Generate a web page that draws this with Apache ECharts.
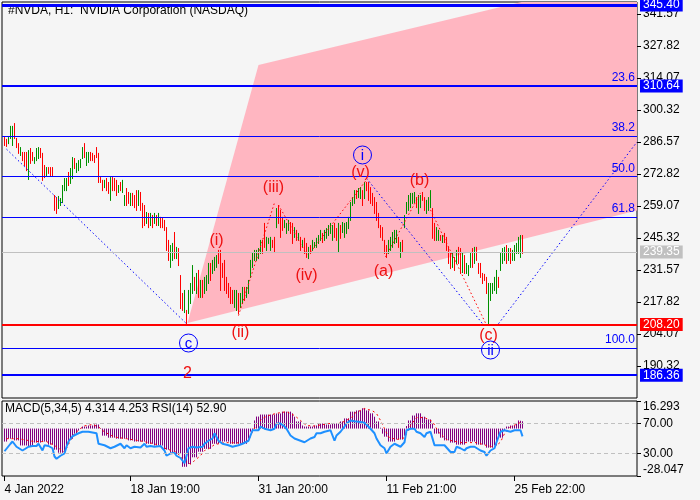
<!DOCTYPE html>
<html lang="en">
<head>
<meta charset="UTF-8">
<title>#NVDA, H1</title>
<script src="https://cdn.jsdelivr.net/npm/echarts@6.0.0/dist/echarts.min.js"></script>
<style>
    html, body { margin: 0; padding: 0; background: #f5f5f5; }
    #chart { width: 700px; height: 500px; }
</style>
</head>
<body>
<div id="chart"></div>
<script>
// ---- price bars (H1), index 0 = 4 Jan 2022 ----
var barHigh = [
 288.7,287.9,288.7,293.5,293.5,294.7,288.3,286.1,284.4,282.3,
 282.3,282.3,283.1,284.0,282.3,280.1,284.0,284.4,284.0,281.9,
 276.7,275.8,275.8,275.8,275.8,263.8,262.9,263.4,262.5,268.1,
 271.1,271.1,273.7,275.4,280.1,279.7,277.6,278.8,279.3,284.4,
 286.1,282.3,282.3,282.3,281.9,281.0,284.4,281.9,271.5,270.3,
 270.3,271.1,269.4,271.5,271.5,271.1,270.3,268.1,269.4,270.3,
 263.8,266.8,265.1,264.7,264.7,263.8,265.9,265.9,265.1,260.4,
 259.5,256.5,256.1,256.1,255.2,256.1,255.2,256.1,254.4,253.9,
 253.1,250.0,244.5,242.3,243.2,247.9,241.5,241.0,229.4,221.7,
 223.0,214.4,223.0,226.0,233.7,228.6,230.3,231.6,227.3,227.3,
 228.6,229.4,234.6,234.6,235.9,237.2,238.0,240.2,240.2,234.6,
 235.9,228.6,226.0,224.3,223.0,223.0,223.0,221.7,221.7,224.3,
 224.3,224.3,227.3,235.9,238.9,240.2,240.2,241.0,244.5,244.5,
 251.8,245.8,245.4,245.8,244.5,245.8,258.2,259.5,257.4,254.4,
 253.1,251.8,253.1,252.2,251.8,250.0,248.8,247.5,245.8,244.5,
 245.4,243.2,241.5,242.3,244.5,243.6,245.4,246.6,248.8,247.5,
 248.8,249.6,250.9,251.8,250.9,251.8,249.6,251.8,250.9,252.2,
 251.8,252.2,254.4,260.8,262.9,265.9,265.9,266.8,267.2,265.9,
 269.4,269.4,269.4,267.2,264.7,262.9,260.8,256.1,250.9,250.0,
 244.5,242.3,244.5,245.8,247.9,248.8,248.8,245.8,243.6,244.5,
 255.2,260.8,263.8,264.7,264.7,265.1,262.9,263.8,263.8,265.1,
 262.9,261.7,262.9,265.9,258.2,251.8,250.0,248.8,246.6,246.6,
 247.5,245.8,241.5,239.3,238.9,237.2,240.2,241.5,241.0,238.9,
 238.0,234.6,233.7,238.9,241.0,241.5,241.5,234.6,234.6,230.3,
 229.9,228.6,226.0,226.0,226.0,228.6,231.6,228.6,238.9,241.0,
 241.5,242.3,241.0,241.0,240.2,242.3,243.2,245.8,246.6,246.6
];
var barLow = [
 285.3,284.9,286.1,288.3,285.3,288.3,284.4,281.9,281.0,278.8,
 276.7,274.5,270.7,277.6,278.8,277.6,278.8,279.7,280.1,270.3,
 271.5,272.4,273.3,272.4,272.4,257.4,256.1,258.2,259.5,260.8,
 265.9,265.9,268.1,269.0,271.1,275.4,273.7,274.5,275.8,279.7,
 280.1,276.7,278.0,278.8,278.8,278.0,280.1,269.4,269.4,265.9,
 267.2,265.9,264.7,261.7,265.9,265.9,263.8,265.1,265.9,265.1,
 259.5,259.5,260.4,259.5,259.5,258.6,257.4,259.5,257.4,250.0,
 250.9,251.8,250.0,250.9,250.0,251.8,250.9,250.9,250.0,250.0,
 248.8,240.2,235.9,232.9,235.9,236.7,236.7,233.7,215.2,214.4,
 213.5,208.3,213.1,217.4,221.7,223.0,221.7,220.0,220.0,220.0,
 221.7,223.0,226.0,227.3,230.3,231.6,232.9,234.6,223.0,228.6,
 223.0,221.7,220.0,217.4,217.4,215.7,214.4,213.1,215.7,217.4,
 218.7,220.0,221.7,228.6,232.9,235.9,235.9,236.7,238.9,238.9,
 241.5,240.2,243.2,240.2,241.5,239.3,250.0,251.8,245.8,248.8,
 250.0,247.5,248.8,247.5,243.2,245.8,244.5,244.5,240.2,241.5,
 238.9,237.2,236.7,238.9,240.2,241.5,241.5,243.2,244.5,243.6,
 244.5,245.4,246.6,247.5,244.5,245.8,244.5,239.3,245.4,247.9,
 245.8,247.5,249.6,253.1,259.5,260.4,262.5,262.9,262.5,259.5,
 262.5,265.9,261.7,260.4,259.5,256.1,253.1,250.0,245.8,244.5,
 238.9,237.2,238.9,240.2,241.5,243.2,243.6,241.5,237.2,239.3,
 250.0,256.1,257.4,258.6,260.4,260.8,258.6,256.1,258.6,261.7,
 257.4,256.1,257.4,258.6,245.4,244.5,244.5,244.5,244.5,243.6,
 243.6,240.2,234.6,232.4,232.9,231.6,234.6,234.6,230.3,230.7,
 230.3,230.3,229.4,232.9,232.9,234.6,235.9,230.3,228.6,226.0,
 227.3,221.7,208.8,218.7,221.7,223.0,221.7,224.3,231.6,234.6,
 235.9,234.6,235.9,234.6,235.9,235.9,238.9,238.9,237.2,238.9
];
// 1 = bull bar (green), 0 = bear bar (red)
var barUp = [
 0,0,1,1,1,0,0,0,1,0, 0,0,1,0,0,1,1,1,0,0, 0,1,0,0,0,0,0,1,1,1, 1,1,0,1,1,0,1,1,1,1,
 0,1,1,0,0,0,0,0,0,0, 1,0,0,1,0,0,0,1,0,1, 1,0,0,1,0,0,0,1,0,0, 0,1,0,1,0,1,0,1,0,0,
 0,0,0,1,1,0,1,0,0,0, 1,0,1,1,1,0,1,0,1,0, 1,1,1,0,1,1,1,0,0,0, 0,0,0,0,0,1,1,0,1,1,
 0,1,1,1,1,1,1,1,1,0, 0,1,1,1,0,0,1,0,0,0, 1,1,1,0,0,1,0,1,0,1, 0,0,1,0,1,1,1,1,1,0,
 1,1,1,1,1,0,0,1,0,1, 1,1,1,1,1,1,0,1,1,0, 1,0,0,0,0,0,0,0,0,0, 0,0,1,1,1,1,1,0,1,0,
 1,1,1,1,1,1,0,1,1,0, 0,1,1,1,0,0,1,1,0,1, 0,0,0,0,1,0,1,0,0,1, 0,1,1,1,0,1,0,0,0,0,
 0,0,1,1,1,1,1,0,1,1, 1,0,1,0,1,1,1,1,1,0
];

// ---- MACD(5,34,5) histogram, one value per bar ----
var macdHist = [
 -7.7,-7.7,-6,-6,-6,-7,-7,-7,-10,-10, -10,-10,-10.7,-10.7,-10.7,-8.3,-8.3,-8.3,-8.3,-7.7,
 -7.7,-7.7,-9.5,-9.5,-9.5,-12.5,-12.5,-14.3,-14.3,-14.3, -14.3,-12,-9,-6,-6,-3,-3,-1.2,0.2,1.2,
 1.2,1.2,1.8,1.8,1.8,2.4,2.4,2.4,0.3,-4.2, -4.2,-4.2,-5.4,-5.4,-5.4,-5.4,-6,-6,-6,-6,
 -6,-6,-7,-7,-7,-7.7,-7.7,-7.7,-7.7,-7.7, -7.7,-9,-9,-9,-9,-10,-10,-10,-10,-10,
 -12.5,-12.5,-12.5,-14.3,-14.3,-14.3,-15,-15,-15,-22.6, -22.6,-22.6,-21,-21,-17,-17,-17,-13.7,-13.7,-13.7,
 -12,-12,-12,-12,-9,-9,-9,-9,-7.7,-7.7, -7.7,-7.7,-7.7,-9,-9,-9,-9,-9,-9,-9,
 -9,-9,-6,-1.8,-1.8,4.8,7.1,7.1,8.3,8.3, 8.3,8.3,8.3,8.3,8.3,8.3,8.9,8.9,8.9,10,
 10,10,10,10,9,7,4.2,4.2,4.2,1.8, 1.2,1.2,1.2,1.2,1.2,1.8,1.8,3,3,3,
 3,2.4,2.4,2.4,3,3,3,3,4.2,4.2, 6,6,6,10,10,10,10.7,10.7,10.7,12,
 12,10.7,10.7,9,9,7,4.2,4.2,0.5,-3, -4.8,-4.8,-7.7,-7.7,-7.7,-7.7,-6.5,-6.5,-6.5,-6.5,
 -4.2,1.5,4.8,4.8,7.7,7.7,9,9,9,7, 7,5.4,5.4,5.4,3,-3,-3,-3,-5.4,-5.4,
 -7,-7,-7,-8.3,-8.3,-8.3,-9.5,-9.5,-9.5,-9.5, -9.5,-7.7,-7.7,-7.7,-7.7,-7.7,-9.5,-9.5,-9.5,-9.5,
 -9.5,-11.3,-11.3,-11.3,-11.3,-10,-10,-5.4,-5.4,-5.4, -1.2,1.2,1.2,1.8,1.8,1.8,3,4.8,4.6,4.314
];
// signal line [bar, value]
var macdSignal = [
 [1,-6],[7,-6],[15,-7.7],[21,-7.7],[25,-10],[30,-14],[31,-13],[33,-7],[35,-3],[38,0],
 [40,1.6],[44,2.4],[47,1],[50,-2],[55,-5],[61,-6],[68,-7.3],[75,-9],[81,-12],[86,-14],
 [90,-19],[93,-21],[95,-19],[98,-16],[100,-13],[102,-12],[105,-9.5],[110,-8.3],[119,-8.5],[122,-7],
 [124,-1.8],[126,2.4],[129,6],[132,7.7],[136,9],[141,10],[145,7.7],[148,4.8],[151,1.8],[155,1.5],
 [162,3],[167,3],[170,4.2],[174,7],[175,9],[180,11.9],[184,10.5],[186,8.9],[188,4.8],[190,0],
 [192,-5],[196,-6.5],[200,-5.5],[203,1.8],[206,6.5],[210,6.5],[214,4.2],[217,-2],[221,-6.5],[228,-8.3],
 [236,-8.3],[241,-10],[245,-11],[248,-8],[250,-3],[253,1],[257,3],[259,4.253]
];
// RSI(14) [bar, value]
var rsiLine = [
 [0,33],[1,34],[3,43],[4,46],[6,39],[7,37],[9,34],[10,32],[12,39],[14,40],[16,40],[17,43],[19,34],[20,41],
 [22,40],[24,37],[25,26],[26,23],[28,27],[30,30],[31,39],[32,46],[34,53],[35,54],[37,57],[39,59],[40,57],
 [42,59],[44,58],[46,57],[47,43],[50,41],[51,39],[53,37],[55,39],[56,39],[58,43],[60,37],[61,41],[63,37],
 [65,39],[66,41],[68,38],[70,43],[71,39],[73,40],[75,39],[76,39],[78,40],[80,34],[81,27],[83,30],[85,31],
 [86,27],[88,24],[90,17],[92,37],[94,39],[96,38],[97,37],[99,39],[100,43],[102,47],[104,50],[105,57],
 [107,47],[109,43],[110,43],[112,41],[114,39],[115,37],[117,41],[119,43],[120,45],[122,47],[124,61],
 [125,63],[127,61],[128,66],[130,63],[131,63],[133,61],[135,63],[136,70],[138,70],[140,66],[141,63],
 [142,65],[143,54],[145,50],[146,50],[148,47],[150,45],[151,47],[153,50],[155,52],[156,57],[158,57],
 [160,59],[161,59],[163,61],[165,47],[166,54],[168,59],[170,66],[171,70],[173,74],[175,73],[176,74],
 [178,72],[180,71],[181,70],[183,63],[185,57],[186,50],[188,41],[190,37],[191,30],[193,39],[195,43],
 [196,43],[198,39],[200,45],[201,61],[203,63],[205,63],[206,59],[208,57],[210,52],[211,57],[213,59],
 [215,41],[216,41],[218,41],[220,41],[221,39],[223,32],[225,32],[226,39],[228,37],[230,34],[231,37],
 [233,39],[235,39],[236,37],[238,34],[240,32],[241,27],[243,34],[245,37],[246,45],[248,59],[250,61],
 [251,59],[253,59],[255,61],[256,63],[258,61],[259,52.9]
];

// ---- axes ----
var priceTicks = [341.57, 327.82, 314.07, 300.32, 286.57, 272.82, 259.07, 245.32, 231.57, 217.82, 204.07, 190.32];
var rsiTicks = [70, 30];
var macdTicks = [16.293, -28.047];
var timeIdx = [0, 63, 127, 191, 255];
var timeLabels = ['4 Jan 2022', '18 Jan 19:00', '31 Jan 20:00', '11 Feb 21:00', '25 Feb 22:00'];

// ---- levels ----
var priceLevels = [345.40, 310.64, 239.35, 208.20, 186.36];
var levelColors = ['#0000ff', '#0000ff', '#c0c0c0', '#ff0000', '#0000ff'];
var levelWidths = [3, 2, 1, 2, 2];
var fibNames = ['23.6', '38.2', '50.0', '61.8', '100.0'];
var fibPrices = [310.64, 289.13, 271.75, 254.37, 198.0];

// ---- Elliott wave annotations ----
var channel = [[91.5, 208.8], [127, 319.7], [316.25, 358.6], [316.25, 257.1]];
// [x1, y1, x2, y2, colour] colour 0 = blue, 1 = red
var waveLines = [
 [1, 283.5, 91, 208.5, 0],
 [181, 271.0, 239, 208.5, 0],
 [247, 208.5, 316.25, 286.6, 0],
 [117, 212.0, 135, 260.5, 1],
 [137, 259.5, 151.5, 237.6, 1],
 [153, 239.3, 181, 270.3, 1],
 [190.5, 237.2, 208, 264.7, 1],
 [213, 257.4, 240.5, 208.8, 1]
];
var waveText = ['(i)', '(ii)', '(iii)', '(iv)', '(v)', '(a)', '(b)', '(c)', '2'];
var waveAt = [[106, 244.0], [118, 204.5], [134.5, 266.8], [151, 229.0], [178, 273.6], [189.5, 230.7], [207.5, 269.8], [242, 203.6], [91.5, 186.9]];
var circleText = ['i', 'ii', 'c'];
var circleAt = [[179, 281.0], [243, 197.2], [92, 200.2]];

var FONT = 'Liberation Sans';
var X_MIN = -1.25, X_MAX = 316.25;
var MACD_LABEL_INSET = 3.6;   // pull the two extreme MACD labels inside the pane

var chart = echarts.init(document.getElementById('chart'));

var bars = barHigh.map(function (h, i) { return [i, h, barLow[i], barUp[i]]; });

var levelMarks = [];
priceLevels.forEach(function (p, k) {
    levelMarks.push({
        yAxis: p,
        lineStyle: { color: levelColors[k], width: levelWidths[k], type: 'solid' },
        label: {
            show: true, position: 'end', distance: 3,
            formatter: p.toFixed(2), color: '#fff',
            backgroundColor: levelColors[k], padding: [1, 3, 0, 3],
            fontFamily: FONT, fontSize: 12
        }
    });
});
fibPrices.forEach(function (p, k) {
    levelMarks.push({
        yAxis: p,
        lineStyle: { color: '#0000ff', width: k === 0 ? 0 : 1, type: 'solid' },
        label: {
            show: true, position: 'insideEndTop', distance: 2,
            formatter: fibNames[k], color: '#0000ff',
            fontFamily: FONT, fontSize: 12
        }
    });
});

var macdLabelAt = [macdTicks[0] - MACD_LABEL_INSET, macdTicks[1] + MACD_LABEL_INSET];

option = {
    backgroundColor: '#f5f5f5',
    animation: false,
    graphic: [
        { type: 'text', left: 8, top: 5, style: { text: '#NVDA, H1:  NVIDIA Corporation (NASDAQ)', font: '12px "Liberation Sans"', fill: '#000' } },
        { type: 'text', left: 5, top: 403, style: { text: 'MACD(5,34,5) 4.314 4.253 RSI(14) 52.90', font: '12px "Liberation Sans"', fill: '#000' } }
    ],
    grid: [
        { left: 2, top: 2, width: 635, height: 396, show: true, borderColor: '#000', borderWidth: 1, backgroundColor: 'transparent' },
        { left: 2, top: 401, width: 635, height: 75, show: true, borderColor: '#000', borderWidth: 1, backgroundColor: 'transparent' }
    ],
    xAxis: [
        { type: 'value', gridIndex: 0, min: X_MIN, max: X_MAX, show: false, axisLine: { onZero: false } },
        {
            type: 'value', gridIndex: 1, min: X_MIN, max: X_MAX,
            axisLine: { show: false, onZero: false }, splitLine: { show: false },
            axisTick: { customValues: timeIdx, length: 5, lineStyle: { color: '#000' } },
            axisLabel: {
                customValues: timeIdx, align: 'left', margin: 8,
                color: '#000', fontFamily: FONT, fontSize: 12,
                formatter: function (v) { return timeLabels[timeIdx.indexOf(Math.round(v))] || ''; }
            }
        }
    ],
    yAxis: [
        {
            type: 'value', gridIndex: 0, position: 'right', min: 176.57, max: 346.74,
            axisLine: { show: false, onZero: false }, splitLine: { show: false },
            axisTick: { customValues: priceTicks, length: 4, lineStyle: { color: '#000' } },
            axisLabel: { customValues: priceTicks, margin: 6, color: '#000', fontFamily: FONT, fontSize: 12,
                formatter: function (v) { return v.toFixed(2); } }
        },
        {
            type: 'value', gridIndex: 1, position: 'right', min: 0, max: 100,
            axisLine: { show: false, onZero: false }, splitLine: { show: false },
            axisTick: { customValues: rsiTicks, length: 4, lineStyle: { color: '#000' } },
            axisLabel: { customValues: rsiTicks, margin: 6, color: '#000', fontFamily: FONT, fontSize: 12,
                formatter: function (v) { return v.toFixed(2); } }
        },
        {
            type: 'value', gridIndex: 1, position: 'right', min: -28.047, max: 16.293,
            axisLine: { show: false, onZero: false }, splitLine: { show: false },
            axisTick: { customValues: macdTicks, length: 4, lineStyle: { color: '#000' } },
            axisLabel: { customValues: macdLabelAt, margin: 6, color: '#000', fontFamily: FONT, fontSize: 12,
                formatter: function (v) { return v > 0 ? macdTicks[0].toFixed(3) : macdTicks[1].toFixed(3); } }
        }
    ],
    series: [
        {
            // pink channel
            type: 'custom', xAxisIndex: 0, yAxisIndex: 0, clip: true, z: 1, silent: true,
            data: [0],
            renderItem: function (params, api) {
                return {
                    type: 'polygon',
                    shape: { points: channel.map(function (c) { return api.coord(c); }) },
                    style: { fill: '#ffb6c1' }
                };
            }
        },
        {
            // horizontal levels
            type: 'line', xAxisIndex: 0, yAxisIndex: 0, data: [], z: 2,
            markLine: { symbol: 'none', silent: true, animation: false, data: levelMarks }
        },
        {
            // OHLC bars
            type: 'custom', xAxisIndex: 0, yAxisIndex: 0, z: 3, silent: true,
            data: bars,
            renderItem: function (params, api) {
                var t = api.coord([api.value(0), api.value(1)]);
                var b = api.coord([api.value(0), api.value(2)]);
                return {
                    type: 'line',
                    shape: { x1: t[0], y1: t[1], x2: b[0], y2: b[1] + 1 },
                    style: { stroke: api.value(3) ? '#009000' : '#ff0000', lineWidth: 1 }
                };
            }
        },
        {
            // dotted wave lines
            type: 'custom', xAxisIndex: 0, yAxisIndex: 0, clip: true, z: 4, silent: true,
            data: waveLines,
            renderItem: function (params, api) {
                var a = api.coord([api.value(0), api.value(1)]);
                var b = api.coord([api.value(2), api.value(3)]);
                return {
                    type: 'line',
                    shape: { x1: a[0], y1: a[1], x2: b[0], y2: b[1] },
                    style: { stroke: api.value(4) ? '#ff0000' : '#0000ff', lineWidth: 1, lineDash: [1.5, 2.5] }
                };
            }
        },
        {
            // wave labels
            type: 'custom', xAxisIndex: 0, yAxisIndex: 0, z: 5, silent: true,
            data: waveAt.map(function (p, k) { return [p[0], p[1], k]; }),
            renderItem: function (params, api) {
                var k = api.value(2);
                var c = api.coord([api.value(0), api.value(1)]);
                return {
                    type: 'text',
                    style: {
                        text: waveText[k], x: c[0], y: c[1], align: 'center', verticalAlign: 'middle',
                        font: '16px "Liberation Sans"', fill: '#ee1111'
                    }
                };
            }
        },
        {
            // circled wave labels
            type: 'custom', xAxisIndex: 0, yAxisIndex: 0, z: 6, silent: true,
            data: circleAt.map(function (p, k) { return [p[0], p[1], k]; }),
            renderItem: function (params, api) {
                var k = api.value(2);
                var c = api.coord([api.value(0), api.value(1)]);
                return {
                    type: 'group',
                    children: [
                        { type: 'circle', shape: { cx: c[0], cy: c[1], r: 9 }, style: { fill: 'none', stroke: '#0000ff', lineWidth: 1 } },
                        { type: 'text', style: { text: circleText[k], x: c[0], y: c[1] + 1, align: 'center', verticalAlign: 'middle',
                            font: '15px "Liberation Sans"', fill: '#0000ff' } }
                    ]
                };
            }
        },
        {
            // MACD histogram, one crisp 1px stroke per bar
            type: 'custom', xAxisIndex: 1, yAxisIndex: 2, z: 2, silent: true,
            data: macdHist.map(function (v, i) { return [i, v]; }),
            renderItem: function (params, api) {
                var a = api.coord([api.value(0), 0]);
                var b = api.coord([api.value(0), api.value(1)]);
                return {
                    type: 'line',
                    shape: { x1: a[0], y1: a[1], x2: b[0], y2: b[1] },
                    style: { stroke: '#800080', lineWidth: 1 }
                };
            }
        },
        {
            // MACD signal
            type: 'line', xAxisIndex: 1, yAxisIndex: 2, z: 3, silent: true, symbol: 'none',
            lineStyle: { color: '#ff0000', width: 1, type: [2, 3] },
            data: macdSignal
        },
        {
            // RSI
            type: 'line', xAxisIndex: 1, yAxisIndex: 1, z: 4, silent: true, symbol: 'none',
            lineStyle: { color: '#1e90ff', width: 2 },
            data: rsiLine,
            markLine: {
                symbol: 'none', silent: true, animation: false, label: { show: false },
                lineStyle: { color: '#c0c0c0', width: 1, type: [4, 3] },
                data: rsiTicks.map(function (v) { return { yAxis: v }; })
            }
        }
    ]
};

chart.setOption(option);
</script>
</body>
</html>
